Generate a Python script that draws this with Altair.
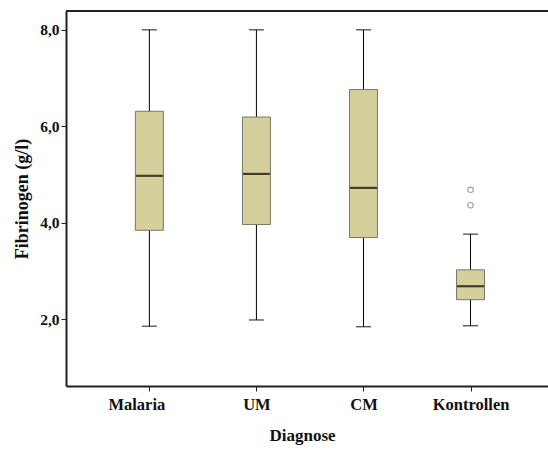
import altair as alt
import pandas as pd

categories = ["Malaria", "UM", "CM", "Kontrollen"]
lower_whisker = [1.85, 1.98, 1.84, 1.86]
q1 = [3.84, 3.96, 3.69, 2.40]
median = [4.97, 5.01, 4.72, 2.68]
q3 = [6.31, 6.19, 6.76, 3.02]
upper_whisker = [8.0, 8.0, 8.0, 3.76]

outlier_group = ["Kontrollen", "Kontrollen"]
outlier_values = [4.68, 4.36]

stats = pd.DataFrame({
    "idx": list(range(len(categories))),
    "Diagnose": categories,
    "lo": lower_whisker,
    "q1": q1,
    "med": median,
    "q3": q3,
    "hi": upper_whisker,
})
outliers = pd.DataFrame({
    "idx": [categories.index(c) for c in outlier_group],
    "v": outlier_values,
})

W, H = 482, 375
xscale = alt.Scale(domain=[-0.732, 3.677], nice=False, zero=False)
yscale = alt.Scale(domain=[0.61, 8.39], nice=False, zero=False)
FONT = "Liberation Serif"
label_expr = "[" + ",".join(f"'{c}'" for c in categories) + "][datum.value]"

xenc = alt.X("idx:Q", scale=xscale, title="Diagnose",
             axis=alt.Axis(values=list(range(len(categories))), labelExpr=label_expr,
                           grid=False, domainColor="#222", domainWidth=2,
                           tickColor="#222", tickSize=5, labelPadding=5,
                           labelOffset={"condition": {"test": "datum.value == 0", "value": -13},
                                        "value": 0},
                           labelFont=FONT, labelFontWeight="bold", labelFontSize=16.5,
                           labelColor="#111",
                           titleFont=FONT, titleFontWeight="bold", titleFontSize=17,
                           titleColor="#111", titlePadding=15, titleX=236))
yaxis = alt.Axis(values=[2, 4, 6, 8], labelExpr="replace(format(datum.value, '.1f'), '.', ',')",
                 grid=False, domainColor="#222", domainWidth=2, tickColor="#222",
                 tickSize=5, labelPadding=2, labelFont=FONT, labelFontWeight="bold",
                 labelFontSize=15.5, labelColor="#111", titleFont=FONT,
                 titleFontWeight="bold", titleFontSize=18, titleColor="#111",
                 titlePadding=8)

base = alt.Chart(stats)

whisker = base.mark_rule(color="black", strokeWidth=1).encode(
    x=xenc,
    y=alt.Y("lo:Q", scale=yscale, axis=yaxis, title="Fibrinogen (g/l)"),
    y2="hi:Q",
)
cap_lo = base.mark_tick(orient="horizontal", color="black", size=15, thickness=1.3).encode(
    x="idx:Q", y="lo:Q")
cap_hi = base.mark_tick(orient="horizontal", color="black", size=15, thickness=1.3).encode(
    x="idx:Q", y="hi:Q")
box = base.mark_bar(size=28, color="#d4cf9b", stroke="#77776a", strokeWidth=1).encode(
    x="idx:Q", y="q1:Q", y2="q3:Q")
med = base.mark_tick(orient="horizontal", color="black", size=27, thickness=2.2).encode(
    x="idx:Q", y="med:Q")
pts = alt.Chart(outliers).mark_point(shape="circle", filled=False, color="#777",
                                     size=30, strokeWidth=1.1).encode(
    x="idx:Q", y="v:Q")
top = alt.Chart(stats).mark_rule(color="#222", strokeWidth=2).encode(
    x=alt.value(0), x2=alt.value(W), y=alt.value(0))

chart = alt.layer(whisker, box, med, cap_lo, cap_hi, pts, top).properties(
    width=W, height=H,
    autosize=alt.AutoSizeParams(type="none"),
    padding={"left": 66, "top": 11, "right": 0, "bottom": 65},
).configure_view(stroke=None).configure(background="white")

chart.save("out.html", embed_options={"renderer": "svg", "actions": False})
